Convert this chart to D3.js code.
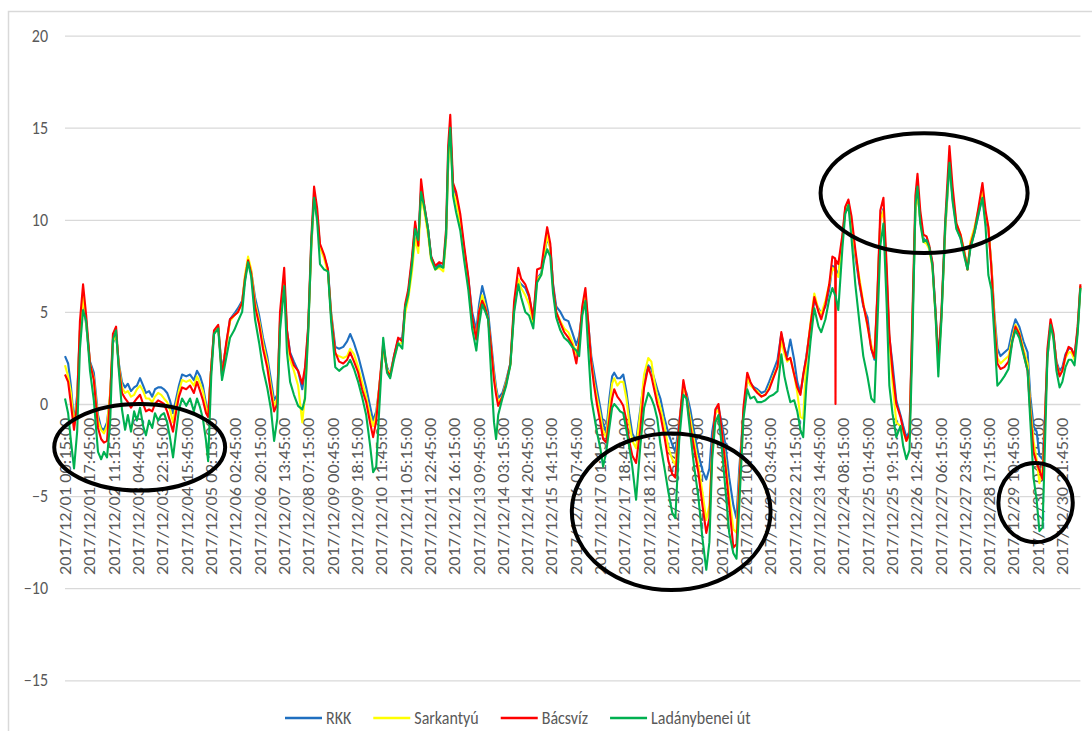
<!DOCTYPE html>
<html lang="hu">
<head>
<meta charset="UTF-8" />
<title>Hőmérséklet – 2017 december</title>
<script src="https://d3js.org/d3.v7.min.js"></script>
<style>
  body { margin: 0; background: #fff; }
  svg { display: block; }
  .grid line { stroke: #d9d9d9; stroke-width: 1.3; }
  text { fill: #595959; }
</style>
</head>
<body>
<svg id="chart" width="1092" height="731"></svg>
<script>
// hours since 2017/12/01 00:00 for every sampled reading
const hours = [
  0.25, 2.5, 4.5, 6.75, 9, 11, 13.25, 15.5, 18.25, 21, 24, 26.25, 28.25, 30.5, 32.75, 34.75, 37, 39, 41.25, 43.5, 45.5, 47.75, 50, 52, 54.25, 56.5, 58.5, 60.75, 63, 65, 67.25, 69.5, 71.5, 73.75, 75.75, 78, 80.25, 82.25, 84.5, 87.5, 90.25, 93, 95.25, 97.5, 99.5, 101.75, 103.25, 105.5, 107.5, 110.5, 113.25, 116.25,
  119, 122, 124.75, 127.75, 129.75, 132, 134.25, 137, 140, 142.75, 145.75, 148.5, 150.75, 153, 155, 158, 160, 162.25, 165, 168, 171, 173, 175.25, 177.5, 179.5, 181.75, 183.75, 186.75, 189.5, 191.75, 194.75, 197.5, 200.5, 203.25, 205.5, 208.25, 211.25, 214, 217, 219.75, 222, 224.25, 226.25, 229.25, 232, 234.25, 237, 240, 243,
  245, 247.25, 250, 252.25, 254.5, 256.5, 258.75, 261.5, 263.75, 266.75, 269.5, 272.5, 274.5, 276, 277.5, 279.5, 281.75, 284.75, 287.5, 290.5, 293.25, 296.25, 298.25, 300.5, 302.75, 304.75, 307, 309, 310.5, 312, 315, 317.75, 320.75, 323.5, 326.5, 328.5, 331.5, 334.25, 337.25, 340, 343, 345, 347.25, 349.5, 351.5, 353.75, 356.75, 359.5, 362.5, 365.25, 368.25,
  370.25, 372.5, 374.75, 376.75, 379, 381, 383.25, 385.5, 387.5, 389.75, 392, 394, 395.5, 397.75, 399.75, 402, 404.25, 406.25, 408.5, 411.25, 414.25, 417, 420, 422.25, 424.25, 426.5, 428.75, 431.5, 434.5, 437.25, 439.5, 442.25, 445.25, 447.5, 450.25, 453, 456, 459, 461.75, 464, 466, 468.25, 470.5, 472.5, 475.5, 478.25, 481.25, 483.5, 485.5, 488.5, 491.25, 493.5, 496.25,
  498.5, 501.5, 504.25, 507, 510, 513, 515.75, 518, 520, 522.25, 525, 527.25, 529.5, 531.5, 533.75, 536.75, 539.5, 542.5, 544.5, 547.5, 550.25, 552.5, 554.5, 554.75, 555, 556.75, 559.75, 561.75, 564, 566.25, 569, 572, 574.75, 577.75, 580.5, 582.75, 585, 587, 589.25, 591.5, 593.5, 595.75, 598.5, 601.5, 603.5, 605.75, 608, 610, 612.25, 613.75, 615.75, 618, 620.25, 622.25,
  624.5, 626.75, 628.75, 631, 633.75, 636.75, 639, 641.75, 644.75, 647.5, 649.75, 651.75, 654.75, 657.5, 660.5, 662.75, 664.75, 667, 669, 671.25, 673.5, 676.25, 679.25, 682, 684.25, 687, 690, 693, 695, 697.25, 699.5, 701.5, 703.75, 705, 707.25, 709.5, 711.5, 713.75, 716, 718, 720.25, 722.5, 724.5, 726.75, 729, 731
];

const rkk = [
  2.6, 2.2, 1.0, -1.0, 0.5, 4.0, 5.6, 4.3, 2.3, 1.7, -0.6, -1.3, -1.4, -1.0, 0.5, 3.3, 3.8, 2.2, 1.2, 0.9, 1.1, 0.7, 0.9, 1.0, 1.4, 1.0, 0.6, 0.7, 0.4, 0.8, 0.9, 0.9, 0.8, 0.6, 0.2, -0.5, 0.3, 1.0, 1.6, 1.5, 1.6, 1.3, 1.8, 1.5, 1.0, 0.0, -0.5, 2.0, 3.9, 4.2, 1.8, 3.2,
  4.6, 4.9, 5.2, 5.6, 6.8, 7.8, 7.2, 5.8, 4.8, 3.6, 2.6, 1.3, 0.2, 0.5, 4.5, 6.6, 4.0, 2.8, 2.3, 1.8, 0.8, 1.8, 4.0, 8.5, 11.2, 10.2, 8.6, 8.0, 7.3, 5.0, 3.1, 3.0, 3.1, 3.4, 3.8, 3.3, 2.6, 1.8, 0.9, -0.1, -0.9, -0.4, 0.8, 3.0, 2.0, 1.6, 2.6, 3.5, 3.6,
  5.2, 6.0, 7.8, 9.7, 8.7, 11.6, 10.8, 9.5, 8.0, 7.4, 7.6, 7.4, 9.0, 13.0, 15.0, 11.8, 11.3, 10.0, 8.4, 6.8, 5.0, 4.0, 5.4, 6.4, 5.7, 5.0, 3.3, 1.8, 0.9, 0.3, 0.6, 1.3, 2.2, 5.2, 6.7, 6.5, 6.3, 5.8, 4.7, 6.8, 7.1, 8.0, 9.0, 8.5, 6.5, 5.3, 5.0, 4.6, 4.5, 3.9, 3.2,
  3.7, 5.0, 5.9, 4.4, 2.6, 1.7, 0.7, -0.2, -1.1, -1.5, 0.3, 1.5, 1.7, 1.4, 1.4, 1.6, 0.7, -0.5, -1.6, -2.0, -0.3, 1.3, 2.1, 1.9, 1.4, 0.8, 0.3, -0.7, -1.6, -2.2, -2.6, -1.0, 0.9, 0.6, -0.3, -1.5, -2.7, -3.6, -4.1, -3.5, -1.5, -0.5, -0.2, -0.9, -2.2, -4.0, -5.5, -6.2, -3.5, -0.5, 1.3, 1.1, 0.9,
  0.8, 0.6, 0.7, 1.2, 1.8, 2.4, 3.8, 3.0, 2.6, 3.5, 2.4, 1.2, 0.6, 1.5, 2.6, 4.2, 5.6, 5.2, 4.9, 5.3, 6.2, 7.5, 7.4, 7.4, 7.3, 7.0, 9.0, 10.6, 11.0, 9.8, 8.0, 6.5, 5.3, 4.7, 3.0, 2.4, 6.0, 10.0, 10.6, 7.0, 3.6, 2.2, 0.2, -0.6, -1.2, -1.8, -1.5, 4.0, 10.5, 11.6, 10.0, 9.0, 8.8, 8.5,
  7.6, 5.0, 2.2, 4.8, 9.5, 13.0, 11.2, 9.6, 9.0, 8.2, 7.4, 8.5, 9.3, 10.2, 11.3, 10.0, 9.5, 7.5, 5.0, 3.0, 2.6, 2.8, 3.0, 4.0, 4.6, 4.2, 3.4, 2.8, 0.4, -1.2, -1.5, -2.8, -3.0, -1.5, 2.5, 4.3, 3.8, 2.3, 1.8, 2.0, 2.7, 3.0, 3.0, 2.6, 4.0, 6.4
];

const sarkantyu = [
  2.1, 1.5, 0.6, -1.2, 0.2, 4.0, 5.8, 4.4, 2.2, 1.4, -0.9, -1.4, -1.6, -1.2, 0.6, 3.4, 3.8, 2.1, 0.9, 0.6, 0.7, 0.4, 0.5, 0.8, 1.0, 0.7, 0.3, 0.3, 0.1, 0.4, 0.6, 0.5, 0.3, 0.1, -0.3, -1.0, 0.0, 0.7, 1.3, 1.2, 1.3, 1.0, 1.5, 1.1, 0.7, -0.2, -0.6, 2.0, 3.8, 4.2, 1.6, 3.1,
  4.5, 4.8, 5.0, 5.5, 7.0, 8.0, 7.3, 5.5, 4.5, 3.3, 2.3, 0.9, -0.1, 0.3, 4.5, 6.7, 3.8, 2.4, 1.8, 1.0, -1.0, 0.5, 4.0, 8.5, 11.3, 10.1, 8.5, 7.9, 7.1, 4.9, 2.7, 2.6, 2.5, 2.6, 3.0, 2.7, 2.0, 1.2, 0.4, -0.6, -1.2, -0.6, 0.8, 3.0, 1.9, 1.6, 2.5, 3.3, 3.3,
  4.9, 5.7, 7.2, 9.0, 8.2, 11.2, 10.5, 9.2, 7.8, 7.3, 7.4, 7.2, 9.0, 13.0, 14.8, 11.5, 11.0, 9.8, 8.2, 6.6, 4.6, 3.6, 5.0, 5.9, 5.3, 4.6, 3.0, 1.5, 0.7, 0.1, 0.4, 1.2, 2.1, 5.3, 6.8, 6.3, 5.9, 5.4, 4.4, 6.8, 7.0, 8.0, 9.2, 8.4, 6.2, 5.0, 4.5, 4.1, 3.9, 3.4, 2.7,
  3.4, 5.0, 6.0, 4.2, 2.3, 1.2, 0.3, -0.6, -1.5, -1.8, -0.2, 1.1, 1.4, 1.0, 1.2, 1.2, 0.3, -1.0, -2.0, -2.4, -0.5, 1.6, 2.5, 2.3, 1.3, 0.4, -0.2, -1.1, -2.4, -3.0, -3.3, -1.2, 1.0, 0.4, -0.8, -2.0, -3.3, -4.8, -6.3, -5.5, -2.5, -0.5, -0.3, -1.3, -3.0, -5.0, -6.8, -7.0, -4.2, -0.5, 1.4, 1.0, 0.8,
  0.7, 0.4, 0.5, 0.9, 1.5, 2.0, 3.4, 2.7, 2.3, 2.5, 1.6, 0.6, -0.7, -0.8, 2.4, 4.4, 6.0, 5.1, 4.9, 5.6, 6.5, 7.4, 7.2, 7.2, 7.1, 6.9, 9.0, 10.5, 10.9, 9.8, 8.2, 6.8, 5.5, 4.2, 3.2, 2.5, 6.0, 10.0, 10.5, 7.0, 3.4, 1.2, -1.0, -1.2, -1.5, -2.0, -1.7, 4.0, 10.5, 11.5, 10.0, 8.8, 8.7, 8.4,
  7.4, 4.8, 2.0, 4.8, 9.5, 13.2, 11.4, 9.8, 9.2, 8.3, 7.3, 8.8, 9.6, 10.5, 11.5, 10.3, 9.6, 7.5, 4.8, 2.5, 2.2, 2.4, 2.6, 3.6, 4.3, 3.9, 3.0, 2.2, -0.2, -2.0, -3.0, -4.3, -3.5, -2.0, 2.6, 4.3, 3.7, 2.2, 1.6, 1.8, 2.5, 2.8, 2.8, 2.4, 4.0, 6.4
];

const bacsviz = [
  1.6, 1.2, 0.0, -1.4, 0.0, 4.5, 6.5, 4.8, 2.2, 1.3, -1.3, -1.9, -2.1, -2.0, 0.4, 3.8, 4.2, 2.0, 0.6, 0.3, 0.1, -0.2, 0.1, 0.3, 0.5, 0.0, -0.4, -0.3, -0.4, 0.0, 0.2, 0.1, 0.0, -0.4, -0.9, -1.5, -0.4, 0.4, 0.9, 0.8, 1.0, 0.6, 1.2, 0.7, 0.2, -0.5, -0.7, 2.0, 4.0, 4.3, 1.5, 3.3,
  4.6, 4.8, 5.0, 5.5, 6.8, 7.8, 7.1, 5.3, 4.3, 3.0, 2.0, 0.6, -0.4, 0.0, 5.0, 7.4, 4.0, 2.7, 2.1, 1.8, 1.1, 2.0, 4.2, 9.0, 11.8, 10.6, 8.7, 8.1, 7.3, 4.8, 2.8, 2.3, 2.2, 2.4, 2.8, 2.3, 1.7, 0.8, 0.1, -1.0, -1.8, -0.9, 0.8, 3.3, 1.8, 1.5, 2.6, 3.6, 3.4,
  5.4, 6.2, 8.0, 9.9, 8.6, 12.2, 10.8, 9.5, 8.0, 7.5, 7.7, 7.6, 9.5, 14.0, 15.7, 12.0, 11.5, 10.3, 8.6, 6.9, 4.7, 3.5, 5.0, 5.6, 5.2, 4.6, 3.0, 1.3, 0.5, -0.1, 0.4, 1.1, 2.2, 5.6, 7.4, 6.8, 6.5, 5.9, 4.6, 7.3, 7.4, 8.5, 9.6, 8.7, 6.4, 5.0, 4.4, 3.9, 3.6, 3.2, 2.2,
  3.3, 5.3, 6.3, 4.5, 2.2, 1.0, -0.1, -1.0, -1.9, -2.1, -0.8, 0.3, 0.8, 0.4, 0.2, -0.1, -0.9, -2.0, -2.8, -3.2, -1.4, 0.9, 2.0, 1.5, 0.8, 0.0, -0.6, -1.7, -3.1, -3.8, -4.0, -1.2, 1.3, 0.4, -1.2, -2.4, -3.7, -5.5, -7.0, -6.2, -2.5, -0.3, 0.0, -1.2, -3.3, -5.5, -7.8, -7.6, -4.5, -0.2, 1.7, 1.2, 0.8,
  0.6, 0.4, 0.5, 0.8, 1.4, 2.0, 3.9, 3.0, 2.4, 2.5, 1.6, 0.9, 0.5, 1.6, 2.5, 4.3, 5.8, 5.0, 4.6, 5.4, 6.5, 8.0, 7.9, 0.0, 7.8, 7.6, 9.2, 10.7, 11.1, 10.2, 8.4, 6.6, 5.4, 4.3, 3.0, 2.5, 6.2, 10.5, 11.2, 7.6, 3.8, 1.8, 0.0, -0.7, -1.4, -2.0, -1.6, 4.5, 11.3, 12.5, 10.5, 9.2, 9.1, 8.6,
  7.7, 5.0, 2.4, 5.0, 10.0, 14.0, 11.8, 9.8, 9.2, 8.2, 7.3, 8.6, 9.4, 10.6, 12.0, 10.5, 9.6, 7.3, 4.5, 2.2, 1.9, 2.0, 2.3, 3.4, 4.2, 3.8, 2.8, 1.8, -0.5, -2.6, -3.2, -3.6, -4.1, -2.0, 3.0, 4.6, 3.9, 2.2, 1.5, 1.8, 2.6, 3.1, 3.0, 2.6, 4.2, 6.5
];

const ladanybenei = [
  0.3, -0.5, -2.0, -3.5, -1.5, 3.0, 5.1, 4.5, 1.8, 0.2, -2.6, -3.0, -2.6, -2.9, -1.0, 3.5, 4.0, 1.8, -0.3, -1.4, -0.6, -1.5, -0.4, -0.9, -0.2, -1.2, -1.7, -0.9, -1.3, -0.5, -0.9, -0.6, -0.5, -1.0, -1.8, -2.9, -1.5, -0.3, 0.3, -0.1, 0.3, -0.4, 0.3, -0.2, -0.8, -2.0, -3.1, 1.5, 3.8, 4.1, 1.3, 2.5,
  3.6, 4.0, 4.5, 5.0, 6.6, 7.7, 6.9, 4.6, 3.3, 1.9, 0.9, -0.3, -2.0, -0.8, 4.0, 6.4, 2.8, 1.2, 0.5, -0.1, -0.3, 0.3, 3.8, 8.8, 11.2, 9.9, 7.6, 7.3, 7.2, 4.5, 2.0, 1.8, 2.0, 2.1, 2.4, 1.9, 1.2, 0.4, -0.6, -2.2, -3.7, -3.4, -0.5, 3.6, 1.7, 1.4, 2.4, 3.3, 3.0,
  5.2, 5.9, 7.6, 9.5, 8.9, 11.5, 10.7, 9.5, 7.9, 7.3, 7.5, 7.4, 9.2, 13.5, 15.0, 11.3, 10.4, 9.4, 7.8, 6.2, 4.1, 2.9, 4.3, 5.4, 5.0, 4.6, 1.5, -1.0, -1.9, -0.6, 0.3, 1.0, 2.1, 5.0, 6.5, 5.8, 5.0, 4.8, 4.1, 6.6, 7.0, 7.8, 8.4, 8.0, 6.0, 4.7, 4.0, 3.6, 3.4, 3.1, 2.9,
  2.6, 4.8, 5.6, 3.0, 0.3, -0.6, -1.6, -2.4, -3.4, -2.6, -1.3, -0.2, 0.0, -0.2, -0.4, -0.5, -1.4, -2.3, -3.4, -5.2, -2.3, -0.2, 0.6, 0.3, -0.1, -0.8, -2.2, -3.4, -4.8, -5.9, -6.2, -2.0, 0.5, 0.3, -1.6, -3.4, -5.0, -7.3, -9.0, -7.5, -3.0, -1.0, -0.6, -2.0, -4.6, -7.0, -8.1, -8.4, -5.5, -0.8, 0.8, 0.3, 0.4,
  0.1, 0.1, 0.2, 0.4, 0.5, 0.7, 2.7, 1.5, 0.8, 0.1, 0.2, -0.4, -1.4, -1.8, 1.0, 3.4, 5.2, 4.2, 3.9, 4.6, 5.7, 6.3, 5.9, 5.9, 5.8, 5.1, 8.5, 10.3, 10.8, 9.0, 6.5, 4.4, 2.6, 1.5, 0.3, 0.1, 4.5, 8.6, 9.8, 5.5, 1.0, -0.5, -1.8, -1.2, -2.3, -3.0, -2.5, 3.0, 10.8, 11.8, 9.8, 8.8, 8.9, 8.5,
  7.5, 4.8, 1.5, 4.6, 9.8, 13.1, 11.0, 9.5, 9.0, 8.0, 7.3, 8.4, 9.3, 10.3, 11.2, 9.6, 7.0, 6.2, 3.8, 1.0, 1.2, 1.5, 1.9, 3.4, 4.0, 3.6, 2.7, 1.8, -1.0, -4.0, -5.2, -6.9, -6.7, -3.5, 2.5, 4.3, 3.6, 1.8, 0.9, 1.2, 2.0, 2.4, 2.4, 2.1, 3.8, 6.3
];

const seriesNames = ['RKK', 'Sarkantyú', 'Bácsvíz', 'Ladánybenei út'];
const seriesColors = ['#1f6fc0', '#ffff00', '#ff0000', '#00b050'];

const tickLabels = [
  '2017/12/01 00:15:00', '2017/12/01 17:45:00', '2017/12/02 11:15:00', '2017/12/03 04:45:00',
  '2017/12/03 22:15:00', '2017/12/04 15:45:00', '2017/12/05 09:15:00', '2017/12/06 02:45:00',
  '2017/12/06 20:15:00', '2017/12/07 13:45:00', '2017/12/08 07:15:00', '2017/12/09 00:45:00',
  '2017/12/09 18:15:00', '2017/12/10 11:45:00', '2017/12/11 05:15:00', '2017/12/11 22:45:00',
  '2017/12/12 16:15:00', '2017/12/13 09:45:00', '2017/12/14 03:15:00', '2017/12/14 20:45:00',
  '2017/12/15 14:15:00', '2017/12/16 07:45:00', '2017/12/17 01:15:00', '2017/12/17 18:45:00',
  '2017/12/18 12:15:00', '2017/12/19 05:45:00', '2017/12/19 23:15:00', '2017/12/20 16:45:00',
  '2017/12/21 10:15:00', '2017/12/22 03:45:00', '2017/12/22 21:15:00', '2017/12/23 14:45:00',
  '2017/12/24 08:15:00', '2017/12/25 01:45:00', '2017/12/25 19:15:00', '2017/12/26 12:45:00',
  '2017/12/27 06:15:00', '2017/12/27 23:45:00', '2017/12/28 17:15:00', '2017/12/29 10:45:00',
  '2017/12/30 04:15:00', '2017/12/30 21:45:00'
];
const yTicks = [-15, -10, -5, 0, 5, 10, 15, 20];

// hand-drawn highlight ellipses: hour span and value span
const markFrom = [-7.5, 365, 544, 672];
const markTo = [115.5, 508, 693, 725.5];
const markHigh = [0, -1.6, 14.7, -3.2];
const markLow = [-4.7, -10.1, 8.2, -7.5];

const font = 'Calibri, Carlito, Lato, sans-serif';
const svg = d3.select('#chart');

// chart frame
svg.append('rect')
  .attr('x', 8.5).attr('y', 11.5)
  .attr('width', 1100).attr('height', 760)
  .attr('fill', '#fff')
  .attr('stroke', '#d9d9d9')
  .attr('stroke-width', 1.5);

const parseTime = d3.timeParse('%Y/%m/%d %H:%M:%S');
const start = parseTime('2017/12/01 00:00:00');
const toDate = h => new Date(+start + h * 3600e3);
const dates = hours.map(toDate);
const tickDates = tickLabels.map(parseTime);

const x = d3.scaleTime()
  .domain([tickDates[0], tickDates[tickDates.length - 1]])
  .range([65, 1062]);
const y = d3.scaleLinear().domain([-20, 20]).range([772.4, 35.6]);

const plotLeft = x(tickDates[0]);
const plotRight = x(dates[dates.length - 1]);

// gridlines + y labels
const gy = svg.append('g')
  .attr('class', 'grid')
  .attr('transform', `translate(${plotLeft},0)`)
  .call(d3.axisLeft(y)
    .tickValues(yTicks)
    .tickSizeInner(-(plotRight - plotLeft))
    .tickSizeOuter(0)
    .tickPadding(17));
gy.select('.domain').remove();
gy.attr('font-family', font).attr('font-size', 16);
gy.selectAll('text').attr('transform', 'scale(1,1.08)');

// category labels, rotated, hanging below the zero line
const gx = svg.append('g')
  .attr('transform', `translate(0,${y(0)})`)
  .call(d3.axisBottom(x)
    .tickValues(tickDates)
    .tickFormat((d, i) => tickLabels[i])
    .tickSize(0));
gx.select('.domain').remove();
gx.attr('font-family', font).attr('font-size', 16);
gx.selectAll('text')
  .attr('transform', 'rotate(-90) scale(1.14,1)')
  .attr('x', -12)
  .attr('y', 0)
  .attr('dy', '0.35em')
  .attr('text-anchor', 'end');

// series
const seriesValues = [rkk, sarkantyu, bacsviz, ladanybenei];
const line = d3.line()
  .x((d, i) => x(dates[i]))
  .y(d => y(d));

svg.append('g')
  .selectAll('path')
  .data(seriesValues)
  .enter()
  .append('path')
  .attr('d', line)
  .attr('fill', 'none')
  .attr('stroke', (d, i) => seriesColors[i])
  .attr('stroke-width', 2.1)
  .attr('stroke-linejoin', 'round');

// legend
const legend = svg.append('g')
  .attr('transform', 'translate(285,718)')
  .attr('font-family', font)
  .attr('font-size', 16);
let lx = 0;
seriesNames.forEach((name, i) => {
  legend.append('line')
    .attr('x1', lx).attr('x2', lx + 37)
    .attr('y1', 0).attr('y2', 0)
    .attr('stroke', seriesColors[i])
    .attr('stroke-width', 2.5);
  const t = legend.append('text')
    .attr('transform', `translate(${lx + 41},0) scale(1,1.1)`)
    .attr('dy', '0.35em')
    .text(name);
  lx += 41 + t.node().getComputedTextLength() + 22;
});

// highlight ellipses
svg.append('g')
  .selectAll('ellipse')
  .data(markFrom)
  .enter()
  .append('ellipse')
  .attr('cx', (d, i) => (x(toDate(d)) + x(toDate(markTo[i]))) / 2)
  .attr('cy', (d, i) => (y(markHigh[i]) + y(markLow[i])) / 2)
  .attr('rx', (d, i) => (x(toDate(markTo[i])) - x(toDate(d))) / 2)
  .attr('ry', (d, i) => (y(markLow[i]) - y(markHigh[i])) / 2)
  .attr('fill', 'none')
  .attr('stroke', '#000')
  .attr('stroke-width', 4);
</script>
</body>
</html>
